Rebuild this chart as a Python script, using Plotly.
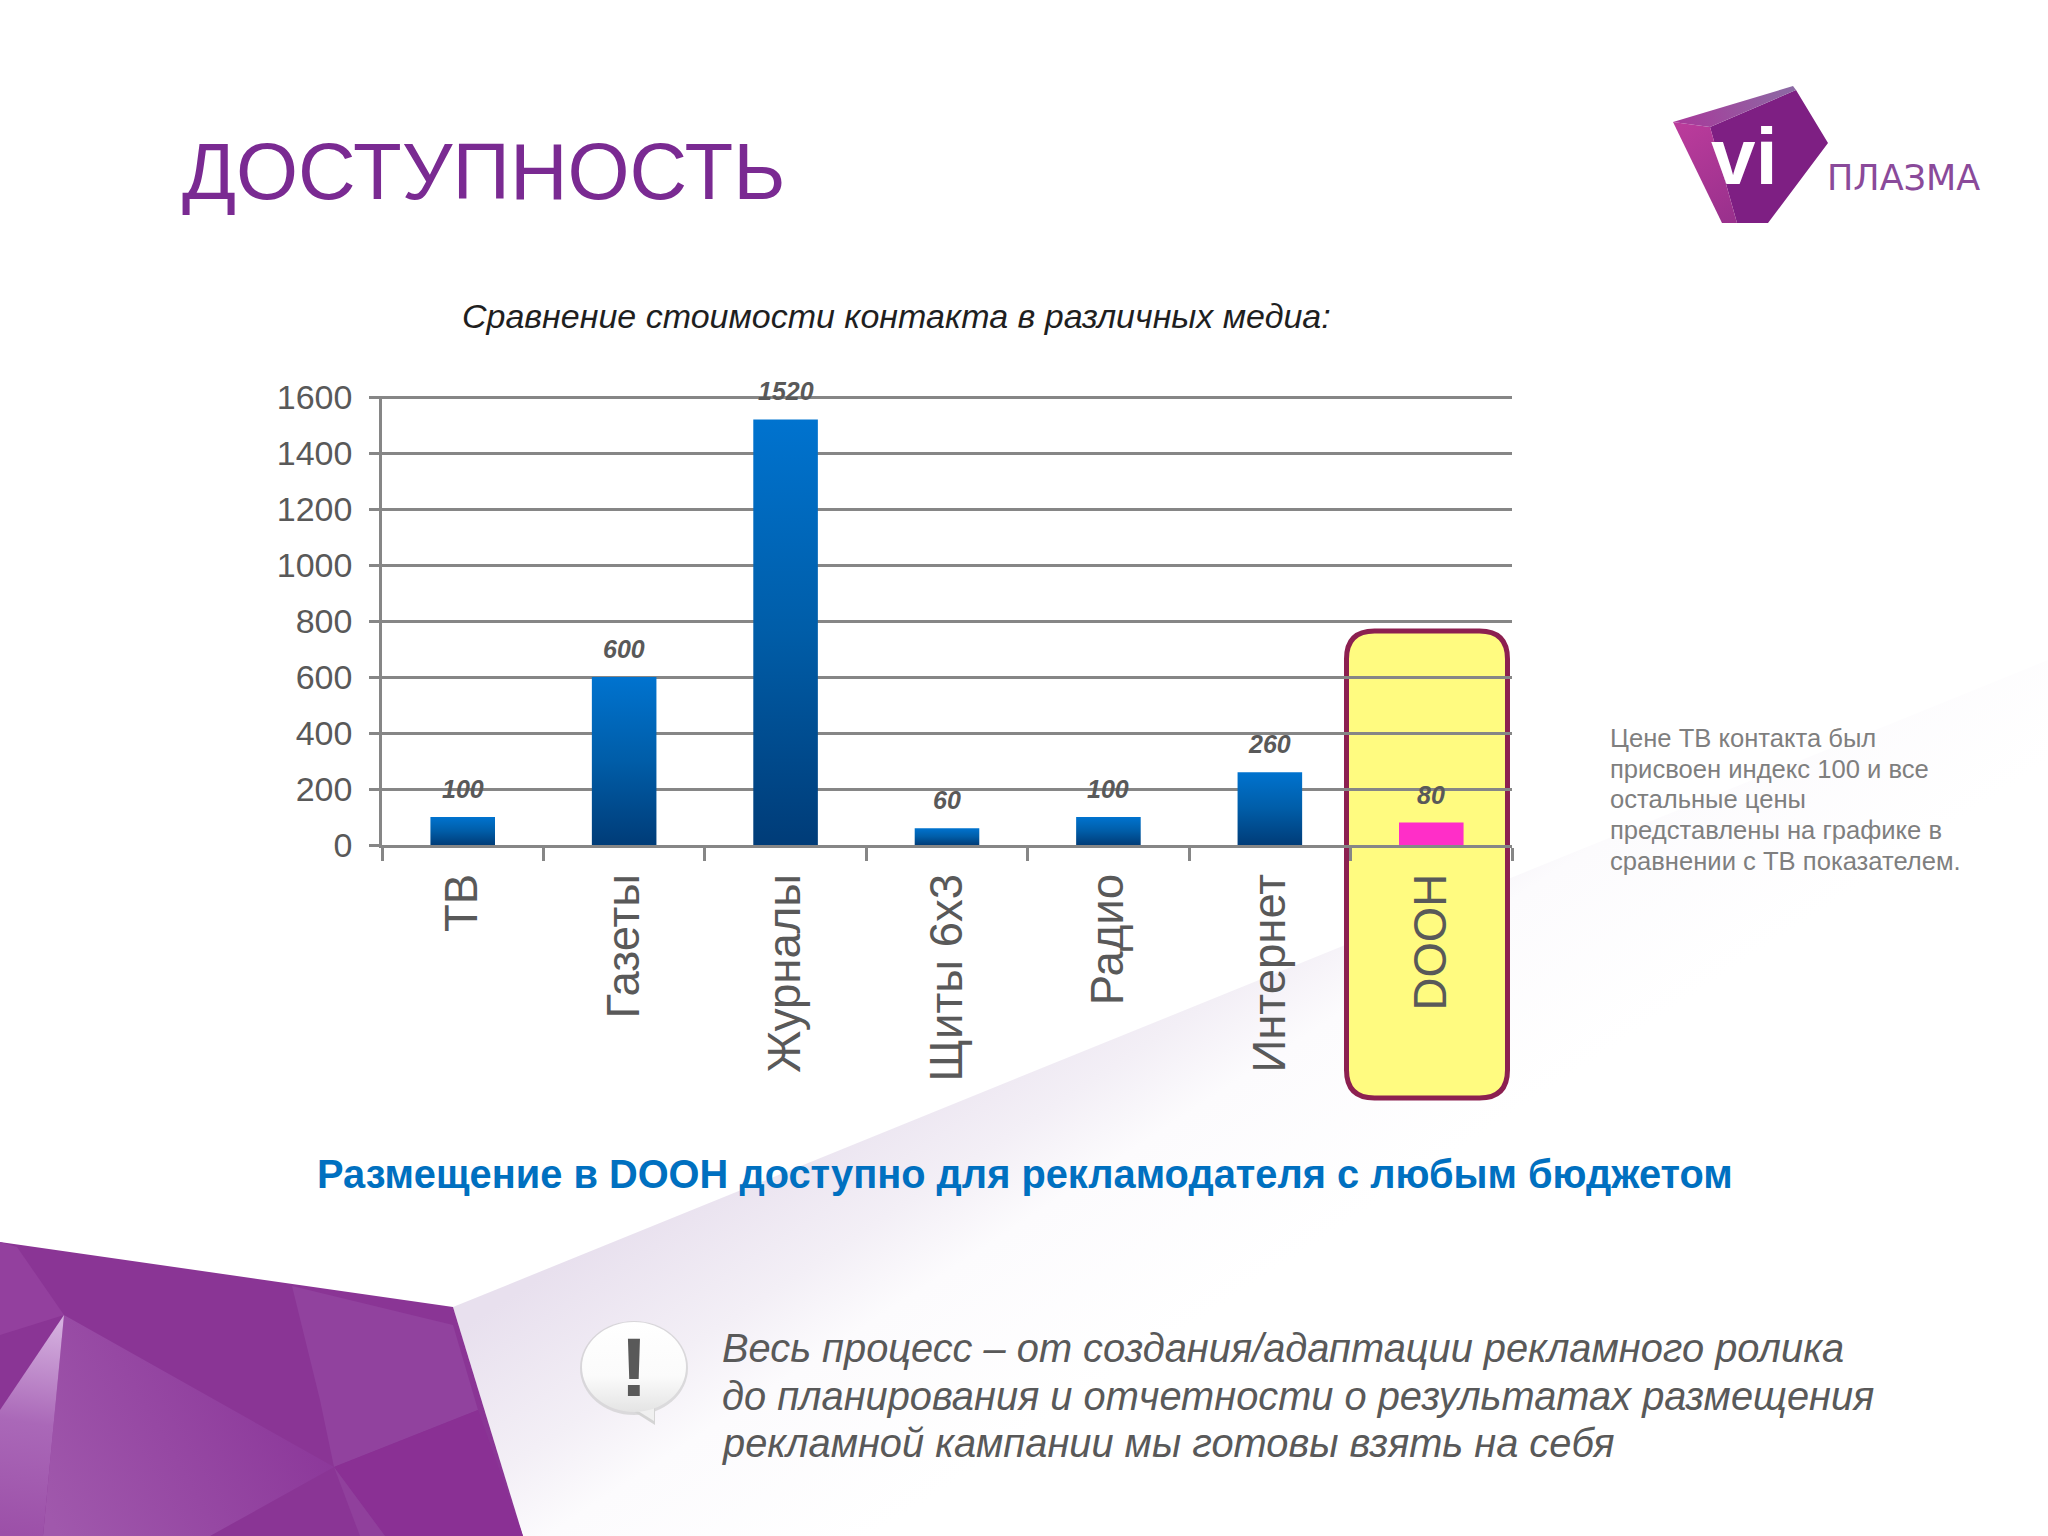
import base64
import plotly.graph_objects as go

categories = ['ТВ', 'Газеты', 'Журналы', 'Щиты 6х3', 'Радио', 'Интернет', 'DOOH']
values = [100, 600, 1520, 60, 100, 260, 80]
y_ticks = [0, 200, 400, 600, 800, 1000, 1200, 1400, 1600]

title = 'ДОСТУПНОСТЬ'
subtitle = 'Сравнение стоимости контакта в различных медиа:'
headline = 'Размещение в DOOH доступно для рекламодателя с любым бюджетом'
note_lines = ['Цене ТВ контакта был', 'присвоен индекс 100 и все', 'остальные цены',
              'представлены на графике в', 'сравнении с ТВ показателем.']
bottom_lines = ['Весь процесс – от создания/адаптации рекламного ролика',
                'до планирования и отчетности о результатах размещения',
                'рекламной кампании мы готовы взять на себя']

W, H = 2048, 1536
FONT = 'Liberation Sans'
GREY = '#595959'
AXIS = '#868686'

# slide decoration, no data in here
bg_svg = f'''<svg xmlns="http://www.w3.org/2000/svg" width="{W}" height="{H}" viewBox="0 0 {W} {H}">
<defs>
<linearGradient id="haze" gradientUnits="userSpaceOnUse" x1="520" y1="1290" x2="740" y2="1624">
<stop offset="0" stop-color="#e8e0ee"/><stop offset="0.35" stop-color="#f3eff6"/>
<stop offset="0.55" stop-color="#fcfbfd"/><stop offset="1" stop-color="#ffffff"/></linearGradient>
<linearGradient id="spike" gradientUnits="userSpaceOnUse" x1="64" y1="1315" x2="30" y2="1536">
<stop offset="0" stop-color="#d8b6e2"/><stop offset="0.5" stop-color="#aa68b8"/><stop offset="1" stop-color="#9c50a8"/></linearGradient>
<linearGradient id="mid" gradientUnits="userSpaceOnUse" x1="60" y1="1536" x2="300" y2="1400">
<stop offset="0" stop-color="#a058ac"/><stop offset="1" stop-color="#8c389a"/></linearGradient>
<linearGradient id="side" gradientUnits="userSpaceOnUse" x1="1673" y1="122" x2="1737" y2="223">
<stop offset="0" stop-color="#bc3c9c"/><stop offset="1" stop-color="#98308c"/></linearGradient>
<linearGradient id="top" gradientUnits="userSpaceOnUse" x1="1673" y1="122" x2="1793" y2="86">
<stop offset="0" stop-color="#a8389a"/><stop offset="1" stop-color="#8c6aa4"/></linearGradient>
<linearGradient id="bub" x1="0" y1="0" x2="0" y2="1">
<stop offset="0" stop-color="#ffffff"/><stop offset="0.6" stop-color="#fbfbfb"/><stop offset="1" stop-color="#e4e4e4"/></linearGradient>
</defs>
<rect width="{W}" height="{H}" fill="#ffffff"/>
<polygon points="453,1307 2048,660 2048,1536 523,1536" fill="url(#haze)"/>
<polygon points="0,1242 453,1307 523,1536 0,1536" fill="#8a3595"/>
<polygon points="0,1242 17,1247 64,1315 0,1335" fill="#93409e"/>
<polygon points="64,1315 334,1467 210,1536 43,1536" fill="url(#mid)"/>
<polygon points="64,1315 0,1410 0,1536 43,1536" fill="url(#spike)"/>
<polygon points="292,1286 453,1325 478,1410 334,1467 320,1400" fill="#91429e"/>
<polygon points="334,1467 478,1410 523,1536 385,1536" fill="#8a3094"/>
<polygon points="334,1467 385,1536 360,1536" fill="#90409c"/>
<polygon points="1722,223 1768,223 1828,143 1796,90 1710,127 1737,223" fill="#7e1f83"/>
<polygon points="1673,122 1710,127 1737,223 1722,223" fill="url(#side)"/>
<polygon points="1673,122 1793,86 1796,90 1710,127" fill="url(#top)"/>
<ellipse cx="634" cy="1368" rx="54" ry="47" fill="#c8c8c8" opacity="0.6"/>
<polygon points="628,1408 655,1425 655,1400" fill="#d4d4d4"/>
<polygon points="630,1406 654,1421 654,1402" fill="#f0f0f0"/>
<ellipse cx="634" cy="1367" rx="52" ry="45" fill="url(#bub)"/>
</svg>'''
bg_src = 'data:image/svg+xml;base64,' + base64.b64encode(bg_svg.encode()).decode()


def px(x):
    return x / W


def py(y):
    return 1 - y / H


def label(x, y, text, size, color, anchor='left', family=FONT):
    return dict(xref='paper', yref='paper', x=px(x), y=py(y), text=text, showarrow=False,
                xanchor=anchor, yanchor='middle', align='left',
                font=dict(family=family, size=size, color=color))


bar_colors = ['#0062B0'] * 6 + ['#FF2EC8']

fig = go.Figure()
fig.add_trace(go.Bar(x=categories, y=values, width=0.4, marker_color=bar_colors,
                     marker_line_width=0, showlegend=False))

notes = [
    label(180, 172, title, 79.8, '#7A2A92'),
    label(1825, 178, 'ПЛАЗМА', 35, '#8A4A9A', family='DejaVu Sans'),
    label(1744, 156, '<b>vi</b>', 80, '#FFFFFF', anchor='center'),
    label(460, 316, '<i>' + subtitle + '</i>', 34, '#1F1F1F'),
    label(315, 1174, '<b>' + headline + '</b>', 39.8, '#0070C0'),
    label(634, 1367, '<b>!</b>', 84, GREY, anchor='center'),
]
for i, line in enumerate(note_lines):
    notes.append(label(1608, 738 + i * 30.7, line, 25.6, '#7F7F7F'))
for i, line in enumerate(bottom_lines):
    notes.append(label(720, 1348 + i * 47.5, '<i>' + line + '</i>', 39.8, GREY))
for c, v in zip(categories, values):
    notes.append(dict(x=c, y=v, text='<b><i>%d</i></b>' % v, showarrow=False, yshift=28,
                      font=dict(family=FONT, size=25, color=GREY)))


def rounded_box(x0, y0, x1, y1, r):
    pts = [('M', x0 + r, y0), ('L', x1 - r, y0), ('Q', x1, y0), ('', x1, y0 + r), ('L', x1, y1 - r),
           ('Q', x1, y1), ('', x1 - r, y1), ('L', x0 + r, y1), ('Q', x0, y1), ('', x0, y1 - r),
           ('L', x0, y0 + r), ('Q', x0, y0), ('', x0 + r, y0)]
    return ' '.join('%s %.5f,%.5f' % (c, px(x), py(y)) for c, x, y in pts) + ' Z'


fig.update_layout(
    width=W, height=H,
    margin=dict(l=0, r=0, t=0, b=0, autoexpand=False),
    paper_bgcolor='white', plot_bgcolor='rgba(0,0,0,0)',
    font=dict(family=FONT, color=GREY),
    bargap=0.6,
    annotations=notes,
    images=[dict(source=bg_src, xref='paper', yref='paper', x=0, y=1, sizex=1, sizey=1,
                 xanchor='left', yanchor='top', sizing='stretch', layer='below')],
    shapes=[dict(type='path', path=rounded_box(1346.5, 631, 1507.5, 1098, 28), xref='paper', yref='paper',
                 layer='below', fillcolor='#FFFB80', line=dict(color='#8C2050', width=5))],
    xaxis=dict(domain=[px(382), px(1512)], tickangle=-90, tickfont=dict(size=45.5, color=GREY),
               ticks='outside', ticklen=13, tickwidth=2.5, tickcolor=AXIS, tickson='boundaries',
               showline=True, linecolor=AXIS, linewidth=2.5, showgrid=False, ticklabelstandoff=8,
               automargin=False),
    # a bit over 1600 so the top gridline is not dropped at the range edge
    yaxis=dict(domain=[py(845), py(395.88)], range=[0, 1604], tickvals=y_ticks,
               tickfont=dict(size=34, color=GREY), ticks='outside', ticklen=10, tickwidth=2.5,
               tickcolor=AXIS, showline=True, linecolor=AXIS, linewidth=2.5,
               showgrid=True, gridcolor=AXIS, gridwidth=2.5, zeroline=False, ticklabelstandoff=10,
               automargin=False),
)

# plotly bars have no gradient fill, so the blue ramp gets patched on the svg after drawing
post = '''
var gd = document.getElementById('{plot_id}');
var svg = gd.querySelector('.main-svg');
var ns = 'http://www.w3.org/2000/svg';
var defs = svg.querySelector('defs') || svg.insertBefore(document.createElementNS(ns, 'defs'), svg.firstChild);
var g = document.createElementNS(ns, 'linearGradient');
g.setAttribute('id', 'barBlue');
g.setAttribute('x1', '0'); g.setAttribute('y1', '0'); g.setAttribute('x2', '0'); g.setAttribute('y2', '1');
[['0', '#0073CF'], ['0.5', '#005DA8'], ['1', '#003C78']].forEach(function (s) {
  var st = document.createElementNS(ns, 'stop');
  st.setAttribute('offset', s[0]); st.setAttribute('stop-color', s[1]);
  g.appendChild(st);
});
defs.appendChild(g);
var bars = gd.querySelectorAll('.bars .point path');
for (var i = 0; i < bars.length - 1; i++) { bars[i].style.fill = 'url(#barBlue)'; }
'''

fig.write_html("out.html", post_script=post,
               config={'displayModeBar': False, 'responsive': False},
               default_width='2048px', default_height='1536px')
# drop the default body margin so the slide sits at 0,0
page = open("out.html", encoding="utf-8").read()
page = page.replace('<body>', '<body style="margin:0;overflow:hidden">', 1)
open("out.html", "w", encoding="utf-8").write(page)
